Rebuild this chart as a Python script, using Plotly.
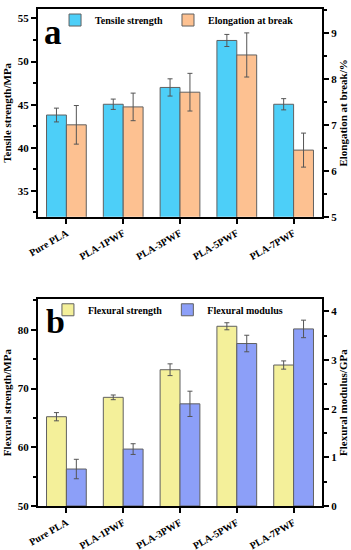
import plotly.graph_objects as go

categories = ["Pure PLA", "PLA-1PWF", "PLA-3PWF", "PLA-5PWF", "PLA-7PWF"]

tensile_strength = [43.8, 45.05, 47.0, 52.45, 45.05]
tensile_err = [0.8, 0.6, 1.0, 0.7, 0.65]
elongation = [7.0, 7.39, 7.71, 8.52, 6.45]
elongation_err = [0.42, 0.3, 0.41, 0.48, 0.37]

flexural_strength = [65.2, 68.5, 73.2, 80.6, 74.0]
flexural_strength_err = [0.7, 0.4, 1.0, 0.6, 0.7]
flexural_modulus = [0.76, 1.17, 2.10, 3.34, 3.64]
flexural_modulus_err = [0.2, 0.11, 0.26, 0.17, 0.18]

FONT = "Liberation Serif"
x_idx = list(range(len(categories)))

err_style = dict(type="data", color="#555555", thickness=1, width=2.5)
bar_line = dict(color="#606060", width=1)

fig = go.Figure()

fig.add_trace(go.Bar(x=x_idx, y=tensile_strength, name="Tensile strength",
                     error_y=dict(array=tensile_err, **err_style),
                     marker=dict(color="#4DCFF8", line=bar_line),
                     width=0.35, offset=-0.35, xaxis="x", yaxis="y", legend="legend"))
fig.add_trace(go.Bar(x=x_idx, y=elongation, name="Elongation at break",
                     error_y=dict(array=elongation_err, **err_style),
                     marker=dict(color="#FDC191", line=bar_line),
                     width=0.35, offset=0, xaxis="x", yaxis="y2", legend="legend"))
fig.add_trace(go.Bar(x=x_idx, y=flexural_strength, name="Flexural strength",
                     error_y=dict(array=flexural_strength_err, **err_style),
                     marker=dict(color="#F4F09A", line=bar_line),
                     width=0.35, offset=-0.35, xaxis="x2", yaxis="y3", legend="legend2"))
fig.add_trace(go.Bar(x=x_idx, y=flexural_modulus, name="Flexural modulus",
                     error_y=dict(array=flexural_modulus_err, **err_style),
                     marker=dict(color="#8C9FF8", line=bar_line),
                     width=0.35, offset=0, xaxis="x2", yaxis="y4", legend="legend2"))

tickfont = dict(family=FONT, size=11, color="black", weight="bold")
xtickfont = dict(family=FONT, size=10, color="black", weight="bold")
titlefont = dict(family=FONT, size=11, color="black", weight="bold")
legfont = dict(family=FONT, size=10, color="black", weight="bold")
axis_common = dict(showline=True, linecolor="black", linewidth=2, ticks="outside",
                   ticklen=5, tickwidth=1.5, tickcolor="black", showgrid=False,
                   zeroline=False, tickfont=tickfont, automargin=False)

xcommon = dict(axis_common, tickmode="array", tickvals=x_idx, ticktext=categories,
               tickangle=-30, range=[-0.5, 4.5], mirror=True, tickfont=xtickfont)

fig.update_layout(
    width=351, height=550,
    margin=dict(l=38, r=29, t=6, b=44),
    plot_bgcolor="white", paper_bgcolor="white",
    showlegend=True,
    xaxis=dict(xcommon, domain=[0, 1], anchor="y"),
    yaxis=dict(axis_common, domain=[0.582, 1], range=[32, 56.1], tickvals=[35, 40, 45, 50, 55],
               title=dict(text="Tensile strength/MPa", font=titlefont, standoff=4),
               minor=dict(ticks="outside", ticklen=3, dtick=2.5, tick0=0, tickcolor="black")),
    yaxis2=dict(axis_common, overlaying="y", side="right", anchor="x", range=[5, 9.52],
                tickvals=[5, 6, 7, 8, 9],
                title=dict(text="Elongation at break/%", font=titlefont, standoff=1),
                minor=dict(ticks="outside", ticklen=3, dtick=0.5, tick0=0, tickcolor="black")),
    xaxis2=dict(xcommon, domain=[0, 1], anchor="y3"),
    yaxis3=dict(axis_common, domain=[0, 0.416], range=[50, 85.2], tickvals=[50, 60, 70, 80],
                title=dict(text="Flexural strength/MPa", font=titlefont, standoff=4),
                minor=dict(ticks="outside", ticklen=3, dtick=5, tick0=0, tickcolor="black")),
    yaxis4=dict(axis_common, overlaying="y3", side="right", anchor="x2", range=[0, 4.25],
                tickvals=[0, 1, 2, 3, 4],
                title=dict(text="Flexural modulus/GPa", font=titlefont, standoff=1),
                minor=dict(ticks="outside", ticklen=3, dtick=0.5, tick0=0, tickcolor="black")),
    legend=dict(orientation="h", x=0.06, y=1.007, xanchor="left", yanchor="top",
                font=legfont, bgcolor="rgba(0,0,0,0)", itemwidth=30, itemclick=False),
    legend2=dict(orientation="h", x=0.035, y=0.424, xanchor="left", yanchor="top",
                 font=legfont, bgcolor="rgba(0,0,0,0)", itemwidth=30, itemclick=False),
    annotations=[
        dict(text="a", x=0.014, y=0.996, xref="paper", yref="paper", xanchor="left", yanchor="top",
             showarrow=False, font=dict(family=FONT, size=35, color="black", weight="bold")),
        dict(text="b", x=0.021, y=0.412, xref="paper", yref="paper", xanchor="left", yanchor="top",
             showarrow=False, font=dict(family=FONT, size=34, color="black", weight="bold")),
    ],
)

fig.write_html("out.html", config={"displayModeBar": False},
               post_script="document.body.style.margin='0';document.body.style.overflow='hidden';")
